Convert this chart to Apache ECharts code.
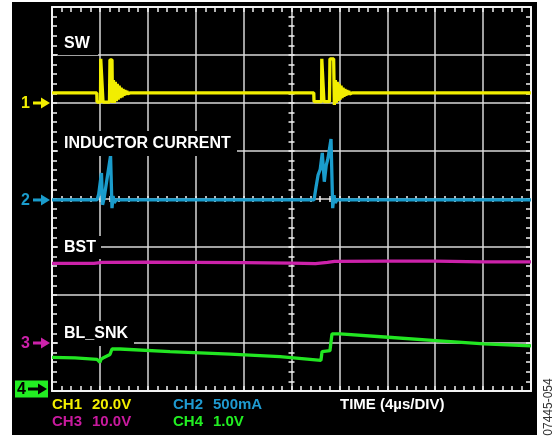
<!DOCTYPE html>
<html><head><meta charset="utf-8">
<script src="https://cdn.jsdelivr.net/npm/echarts@6/dist/echarts.min.js"></script>
<style>
html,body{margin:0;padding:0;background:#fff;}
#bg{position:absolute;left:12px;top:2px;width:525px;height:433px;background:#000;}
#chart{position:absolute;left:0;top:0;width:558px;height:440px;}
</style></head><body>
<div id="bg"></div><div id="chart"></div>
<script>
// time in µs (4 µs/div, 10 div), level in screen divisions (0..8 from bottom)
const swTime = [0, 3.74, 3.76, 4.05, 4.07, 4.09, 4.22, 4.26, 4.80, 4.84, 5.01,
  5.05, 5.13, 5.21, 5.29, 5.37, 5.45, 5.53, 5.61, 5.69, 5.77, 5.85, 5.93, 6.01, 6.09, 6.17, 6.25, 6.33, 6.41, 6.50,
  21.86, 21.88, 22.51, 22.53, 22.55, 22.67, 22.71, 23.17, 23.21, 23.52, 23.55,
  23.58, 23.66, 23.74, 23.82, 23.90, 23.98, 24.06, 24.14, 24.22, 24.30, 24.38, 24.46, 24.54, 24.62, 24.70, 24.78, 24.86, 24.94, 25.05, 40];
const swLevel = [6.21, 6.21, 6.02, 6.02, 6.92, 6.92, 6.92, 6.02, 6.02, 6.90, 6.90,
  6.00, 6.48, 6.00, 6.44, 6.04, 6.40, 6.07, 6.36, 6.10, 6.32, 6.12, 6.29, 6.15, 6.27, 6.17, 6.25, 6.19, 6.23, 6.21,
  6.21, 6.03, 6.03, 6.92, 6.92, 6.92, 6.03, 6.03, 6.92, 6.92, 6.92,
  5.96, 6.48, 6.00, 6.44, 6.04, 6.40, 6.07, 6.36, 6.10, 6.32, 6.13, 6.29, 6.15, 6.27, 6.17, 6.25, 6.19, 6.23, 6.21, 6.21];

const ilTime = [0, 3.76, 3.90, 4.13, 4.22, 4.34, 4.89, 5.01, 5.10, 5.20, 5.35,
  21.88, 22.05, 22.22, 22.40, 22.57, 22.74, 22.90, 23.05, 23.30, 23.44, 23.55, 23.65, 23.80, 40];
const ilLevel = [3.98, 3.98, 4.10, 4.54, 3.88, 4.00, 4.90, 3.81, 4.06, 3.92, 3.98,
  3.98, 4.25, 4.50, 4.62, 4.96, 4.36, 4.70, 4.85, 5.25, 3.81, 4.08, 3.92, 3.98, 3.98];

const bstTime = [0, 3.5, 4.2, 8, 12, 16, 20, 22.0, 23.0, 23.6, 28, 32, 36, 40];
const bstLevel = [2.66, 2.66, 2.68, 2.685, 2.68, 2.675, 2.665, 2.655, 2.68, 2.70, 2.705, 2.705, 2.69, 2.69];

const snkTime = [0, 1.92, 3.76, 4.01, 4.09, 4.34, 4.84, 5.01, 5.68, 9.85, 14.86, 19.04, 22.46, 22.55, 23.21, 23.38, 24.05, 28.06, 32.06, 36.07, 40];
const snkLevel = [0.70, 0.69, 0.66, 0.60, 0.66, 0.70, 0.76, 0.875, 0.875, 0.82, 0.77, 0.715, 0.64, 0.82, 0.84, 1.19, 1.19, 1.12, 1.05, 0.98, 0.94];

const traceNames = ['SW', 'INDUCTOR CURRENT', 'BST', 'BL_SNK'];
const traceColors = ['#f2ee00', '#1a9ccc', '#cc22aa', '#22e622'];
const groundLevels = [6, 3.98, 1, 0];
const channelNumbers = ['1', '2', '3', '4'];
const scaleNames = ['CH1', 'CH2', 'CH3', 'CH4'];
const scaleValues = ['20.0V', '500mA', '10.0V', '1.0V'];
const timeLabel = 'TIME (4µs/DIV)';
const figureId = '07445-054';

const zip = (a, b) => a.map((t, i) => [t, b[i]]);
const FONT = '"Liberation Sans", Arial, sans-serif';
const W = '#f2f2f2';

function ax(kind, pos, offset, inside, len, showLine, split) {
  const o = {
    type: 'value', position: pos, offset: offset,
    axisLine: { show: showLine, onZero: false, lineStyle: { color: W, width: 2 } },
    axisTick: { show: true, inside: inside, length: len, lineStyle: { color: W, width: 1.5 } },
    minorTick: { show: true, splitNumber: 5, length: len, lineStyle: { color: W, width: 1.5 } },
    axisLabel: { show: false },
    splitLine: { show: split, lineStyle: { color: '#d8d8d8', width: 1.5 } }
  };
  if (kind === 'x') { o.min = 0; o.max = 40; o.interval = 4; }
  else { o.min = 0; o.max = 8; o.interval = 1; }
  return o;
}

const chart = echarts.init(document.getElementById('chart'));
const seriesData = [zip(swTime, swLevel), zip(ilTime, ilLevel), zip(bstTime, bstLevel), zip(snkTime, snkLevel)];
chart.setOption({
  animation: false,
  backgroundColor: 'transparent',
  grid: { left: 52, top: 7, width: 479, height: 384 },
  xAxis: [
    ax('x', 'bottom', 0, true, 5, true, true),
    ax('x', 'top', 0, true, 5, true, false),
    ax('x', 'top', -192, true, 3, false, false),
    ax('x', 'top', -192, false, 3, false, false)
  ],
  yAxis: [
    ax('y', 'left', 0, true, 5, true, true),
    ax('y', 'right', 0, true, 5, true, false),
    ax('y', 'right', -239.5, true, 3, false, false),
    ax('y', 'right', -239.5, false, 3, false, false)
  ],
  series: seriesData.map((d, i) => ({
    type: 'line', name: traceNames[i], data: d, xAxisIndex: 0, yAxisIndex: 0,
    showSymbol: false, symbol: 'none', z: 5,
    lineStyle: { color: traceColors[i], width: 3.3 }
  }))
});

const g = [];
// trace name labels with black boxes
const labelLayout = [
  { x: 58, y: 31, w: 40, h: 24 },
  { x: 58, y: 131, w: 179, h: 25 },
  { x: 58, y: 236, w: 43, h: 23 },
  { x: 58, y: 321, w: 76, h: 25 }
];
traceNames.forEach((n, i) => {
  const L = labelLayout[i];
  g.push({ type: 'rect', z: 100, shape: { x: L.x, y: L.y, width: L.w, height: L.h }, style: { fill: '#000' } });
  g.push({ type: 'text', z: 101, x: 64, y: L.y + L.h / 2 + 0.5,
    style: { text: n, fill: '#fff', font: 'bold 16px ' + FONT, verticalAlign: 'middle' } });
});
// channel ground markers
groundLevels.forEach((lv, i) => {
  let y = chart.convertToPixel({ xAxisIndex: 0, yAxisIndex: 0 }, [0, lv])[1];
  const boxed = i === 3;
  const col = boxed ? '#000' : traceColors[i];
  if (boxed) {
    y = y - 2;
    g.push({ type: 'rect', z: 100, shape: { x: 15, y: y - 8.5, width: 33, height: 17 }, style: { fill: '#22ee22' } });
  }
  g.push({ type: 'text', z: 101, x: boxed ? 17 : 21, y: y + 0.5,
    style: { text: channelNumbers[i], fill: col, font: 'bold 16px ' + FONT, verticalAlign: 'middle' } });
  g.push({ type: 'rect', z: 101, shape: { x: boxed ? 28 : 33, y: y - 1.5, width: boxed ? 11 : 9, height: 3 }, style: { fill: col } });
  const hx = boxed ? 38 : 41, tx = boxed ? 47 : 50;
  g.push({ type: 'polygon', z: 101, shape: { points: [[hx, y - 5.5], [tx, y], [hx, y + 5.5]] }, style: { fill: col } });
});
// scale readouts
const scalePos = [[52, 405], [173, 405], [52, 422], [173, 422]];
scaleNames.forEach((n, i) => {
  const c = i === 0 ? traceColors[0] : i === 1 ? '#1f9ad0' : i === 2 ? '#c81a9e' : '#22ee22';
  g.push({ type: 'text', z: 101, x: scalePos[i][0], y: scalePos[i][1],
    style: { text: n, fill: c, font: 'bold 15px ' + FONT, verticalAlign: 'middle' } });
  g.push({ type: 'text', z: 101, x: scalePos[i][0] + 40, y: scalePos[i][1],
    style: { text: scaleValues[i], fill: c, font: 'bold 15px ' + FONT, verticalAlign: 'middle' } });
});
g.push({ type: 'text', z: 101, x: 340, y: 405,
  style: { text: timeLabel, fill: '#fff', font: 'bold 15px ' + FONT, verticalAlign: 'middle' } });
g.push({ type: 'text', z: 101, x: 549, y: 407, rotation: Math.PI / 2,
  style: { text: figureId, fill: '#333', font: '12px ' + FONT, align: 'center', verticalAlign: 'middle' } });
chart.setOption({ graphic: g });
</script>
</body></html>
